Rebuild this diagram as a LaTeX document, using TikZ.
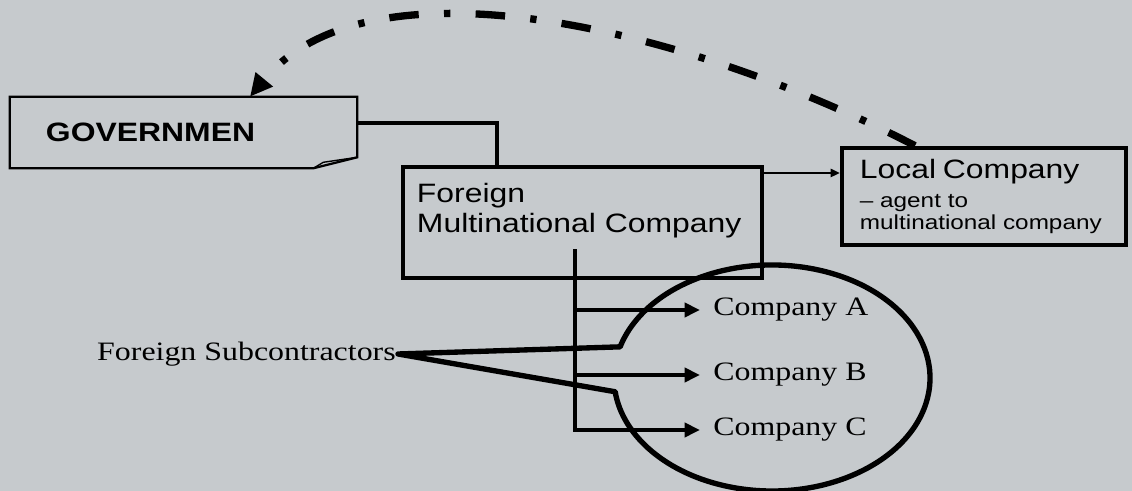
\documentclass[tikz,border=0pt]{standalone}
\usepackage{fontspec}
\setmainfont{Liberation Serif}[FakeStretch=1.2]
\newfontfamily\boxfont{Liberation Sans}[FakeStretch=1.2]
\usepackage{tikz}
\usetikzlibrary{arrows.meta,calc}
\definecolor{paper}{RGB}{198,202,205}

\begin{document}
\begin{tikzpicture}[x=0.025cm,y=0.025cm,
		sansbig/.style={font=\boxfont\fontsize{18.9}{21.3}\selectfont},
		sanssmall/.style={font=\boxfont\fontsize{14.4}{15.6}\selectfont},
		serifbig/.style={font=\fontsize{18.9}{22}\selectfont},
		box/.style={align=left,inner ysep=0pt},
		conn/.style={line width=3pt},
		tip/.style={-{Triangle[length=11pt,width=10pt]}}]
			
			\fill[paper] (0,0) rectangle (1132,491);
			\useasboundingbox (0,0) rectangle (1132,491);
			
			% the three boxes
			\node[sansbig,box,minimum width=8.675cm,minimum height=1.775cm,text width=6.875cm,inner xsep=0.9cm] (gov) at (183.5,358.5) {\bfseries GOVERNMEN};
			\node[sansbig,box,draw,line width=3.2pt,minimum width=8.975cm,minimum height=2.775cm,text width=8.275cm,inner xsep=0.35cm,text depth=1.5cm] (fmc) at (582.5,268.5) {Foreign\\Multinational Company};
			\node[sanssmall,box,draw,line width=3.2pt,minimum width=7.1cm,minimum height=2.425cm,text width=6.2cm,inner xsep=0.45cm] (local) at (984,294.5) {{\fontsize{18.9}{21.3}\selectfont Local Company}\\[5pt]– agent to\\multinational company};
			
			% government box with its folded corner
			\draw[line width=1.6pt] (gov.north west) -- (gov.north east) -- ($(gov.south east)+(0,11)$) -- ($(gov.south east)+(-44,0)$) -- (gov.south west) -- cycle;
			\draw[line width=1pt] ($(gov.south east)+(-44,0)$) -- ++(10,6) -- ($(gov.south east)+(0,11)$);
			
			% subcontractors
			\node[serifbig,anchor=west,inner xsep=0.325cm] (compA) at (700,181) {Company A};
			\node[serifbig,anchor=west,inner xsep=0.325cm] (compB) at (700,116) {Company B};
			\node[serifbig,anchor=west,inner xsep=0.325cm] (compC) at (700,61) {Company C};
			\node[serifbig,anchor=east,inner xsep=0.05cm] (subc) at (398,137) {Foreign Subcontractors};
			\coordinate (ell) at (772,113);
			\coordinate (vtop) at ($(fmc.south)+(-7.5,31)$);
			
			\draw[conn] ($(gov.east)+(0,9.5)$) -| ($(fmc.north)+(-85.5,0)$);
			\coordinate (ag) at ($(local.west)+(0,23.5)$);
			\draw[line width=1.1pt,-{Triangle[length=6.5pt,width=6pt]}] (fmc.east |- ag) -- (ag);
			
			\draw[conn,tip] (vtop) |- (compC.west);
			\draw[conn,tip] (vtop |- compA.west) -- (compA.west);
			\draw[conn,tip] (vtop |- compB.west) -- (compB.west);
			
			\draw[line width=3.8pt,line join=round] (subc.east) -- ($(ell)+(164:158 and 113)$) arc[start angle=164,end angle=-173,x radius=158,y radius=113] -- cycle;
			
			% local company back to government
			\draw[line width=5.2pt,dash pattern=on 21pt off 18pt on 4.5pt off 18pt,-{Triangle[length=16pt,width=15pt]}] ($(local.north)+(-69,0)$) .. controls (690,462) and (370,540) .. (gov.north -| 250,0);
			
		\end{tikzpicture}
\end{document}
